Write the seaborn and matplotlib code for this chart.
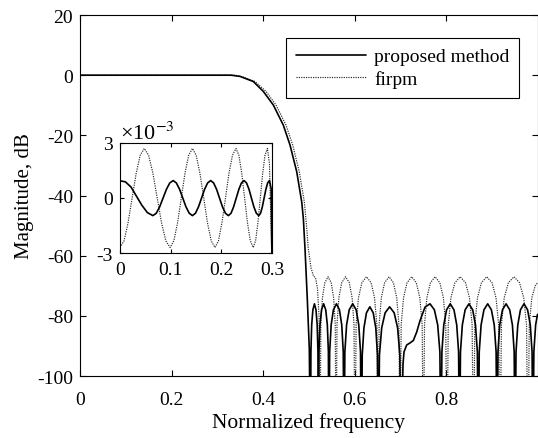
import matplotlib
matplotlib.use("Agg")
import matplotlib.pyplot as plt
import seaborn as sns

# ---- main response (normalized frequency, dB) ----
# nulls are drawn below the -100 dB floor and get clipped by the axes
proposed_freq = [
    0.0, 0.33, 0.3497, 0.3788, 0.4007, 0.4225, 0.4444, 0.459, 0.4737, 0.4846,
    0.4882, 0.4918, 0.4968, 0.5012, 0.5038,
    0.5047, 0.5064, 0.5090, 0.5124, 0.5158, 0.5184, 0.5201, 0.521,
    0.5222, 0.5245, 0.5279, 0.5325, 0.5371, 0.5406, 0.5429, 0.544,
    0.5457, 0.5490, 0.5539, 0.5605, 0.5671, 0.5721, 0.5754, 0.577,
    0.5789, 0.5827, 0.5884, 0.5960, 0.6036, 0.6093, 0.6131, 0.615,
    0.6169, 0.6206, 0.6261, 0.6335, 0.6409, 0.6465, 0.6502, 0.652,
    0.6545, 0.6594, 0.6669, 0.6768, 0.6867, 0.6942, 0.6991, 0.7016,
    0.7060, 0.7082, 0.7140, 0.7213, 0.7286, 0.7359, 0.7432, 0.7541, 0.765,
    0.7746, 0.7818, 0.7866, 0.789,
    0.7910, 0.7951, 0.8012, 0.8093, 0.8174, 0.8234, 0.8275, 0.8295,
    0.8316, 0.8357, 0.8418, 0.8501, 0.8583, 0.8644, 0.8685, 0.8706,
    0.8726, 0.8767, 0.8829, 0.8911, 0.8992, 0.9054, 0.9095, 0.9115,
    0.9135, 0.9174, 0.9234, 0.9313, 0.9392, 0.9451, 0.9490, 0.951,
    0.9530, 0.9569, 0.9627, 0.9705, 0.9783, 0.9842, 0.9881, 0.990,
    0.992, 0.9959, 1.0,
]
proposed_db = [
    0, 0, -0.4, -2.1, -5.4, -9.9, -16.6, -23.2, -32.1, -42.1,
    -47.7, -57.7, -74.3, -91, -130,
    -92, -83, -78, -76, -78, -83, -92, -130,
    -92, -83, -78, -76, -78, -83, -92, -130,
    -92, -83, -78, -76, -78, -83, -92, -130,
    -92, -83, -78, -76, -78, -83, -92, -130,
    -93, -84, -79, -77, -79, -84, -93, -130,
    -93, -84, -79, -77, -79, -84, -93, -130,
    -96, -92, -89.7, -89, -88.2, -85.4, -81.6, -77.1, -76,
    -78, -83, -92, -130,
    -92, -83, -78, -76, -78, -83, -92, -130,
    -92, -83, -78, -76, -78, -83, -92, -130,
    -92, -83, -78, -76, -78, -83, -92, -130,
    -92, -83, -78, -76, -78, -83, -92, -130,
    -92, -83, -78, -76, -78, -83, -92, -130,
    -92, -83, -79.5,
]

firpm_freq = [
    0.0, 0.3388, 0.3541, 0.3825, 0.4066, 0.4284, 0.4503, 0.4649, 0.4793,
    0.4903, 0.4951, 0.4990, 0.5049, 0.5104, 0.5148, 0.5191, 0.5224, 0.5246,
    0.5264, 0.5299, 0.5351, 0.5421, 0.5491, 0.5544, 0.5579, 0.5596,
    0.5617, 0.5658, 0.5720, 0.5803, 0.5886, 0.5948, 0.5989, 0.601,
    0.6035, 0.6086, 0.6161, 0.6262, 0.6363, 0.6438, 0.6489, 0.6514,
    0.6538, 0.6586, 0.6658, 0.6755, 0.6851, 0.6923, 0.6971, 0.6995,
    0.7020, 0.7071, 0.7148, 0.7250, 0.7351, 0.7428, 0.7479, 0.7504,
    0.7530, 0.7581, 0.7659, 0.7762, 0.7865, 0.7943, 0.7994, 0.802,
    0.8049, 0.8107, 0.8194, 0.8310, 0.8426, 0.8513, 0.8571, 0.860,
    0.8629, 0.8687, 0.8774, 0.8890, 0.9006, 0.9093, 0.9151, 0.918,
    0.9211, 0.9272, 0.9363, 0.9485, 0.9607, 0.9699, 0.9760, 0.979,
    0.982, 0.9875, 0.995, 1.0,
]
firpm_db = [
    0, 0, -0.5, -2.1, -5.4, -9.9, -16.6, -23.2, -32.1,
    -42.1, -50, -57.7, -64, -66.8, -67.3, -71, -80, -130,
    -83, -74, -69, -67, -69, -74, -83, -130,
    -83, -74, -69, -67, -69, -74, -83, -130,
    -83, -74, -69, -67, -69, -74, -83, -130,
    -83, -74, -69, -67, -69, -74, -83, -130,
    -83, -74, -69, -67, -69, -74, -83, -130,
    -83, -74, -69, -67, -69, -74, -83, -130,
    -83, -74, -69, -67, -69, -74, -83, -130,
    -83, -74, -69, -67, -69, -74, -83, -130,
    -83, -74, -69, -67, -69, -74, -83, -130,
    -83, -74, -70, -69,
]

# ---- passband ripple inset (frequency, dB in units of 1e-3) ----
inset_prop_freq = [
    0.0, 0.0108, 0.0217, 0.0325, 0.0433, 0.0542,
    0.065, 0.0717, 0.0783, 0.085, 0.0917, 0.0983,
    0.105, 0.1113, 0.1177, 0.124, 0.1303, 0.1367,
    0.143, 0.149, 0.155, 0.161, 0.167, 0.173,
    0.179, 0.1848, 0.1907, 0.1965, 0.2023, 0.2082,
    0.214, 0.2192, 0.2243, 0.2295, 0.2347, 0.2398,
    0.245, 0.2498, 0.2547, 0.2595, 0.2643, 0.2692,
    0.274, 0.2775, 0.281, 0.2845, 0.288, 0.2915,
    0.295, 0.2985, 0.3,
]
inset_prop_val = [
    0.94, 0.88, 0.6, 0.1, -0.4, -0.8,
    -0.96, -0.832, -0.483, -0.005, 0.473, 0.822,
    0.95, 0.822, 0.473, -0.005, -0.483, -0.832,
    -0.96, -0.832, -0.483, -0.005, 0.473, 0.822,
    0.95, 0.822, 0.473, -0.005, -0.483, -0.832,
    -0.96, -0.832, -0.483, -0.005, 0.473, 0.822,
    0.95, 0.822, 0.473, -0.005, -0.483, -0.832,
    -0.96, -0.832, -0.483, -0.005, 0.473, 0.822,
    0.95, 0.5, -3.5,
]
inset_firpm_freq = [
    0.0, 0.008, 0.016, 0.024, 0.032, 0.040,
    0.048, 0.0565, 0.065, 0.0735, 0.082, 0.0905,
    0.099, 0.1063, 0.1137, 0.121, 0.1283, 0.1357,
    0.143, 0.1504, 0.1578, 0.1653, 0.1727, 0.1801,
    0.1875, 0.1944, 0.2013, 0.2083, 0.2152, 0.2221,
    0.229, 0.2347, 0.2403, 0.246, 0.2517, 0.2573,
    0.263, 0.2677, 0.2723, 0.277, 0.2817, 0.2863,
    0.291, 0.295, 0.3,
]
inset_firpm_val = [
    -2.7, -2.338, -1.35, 0, 1.35, 2.338,
    2.7, 2.338, 1.35, 0, -1.35, -2.338,
    -2.7, -2.338, -1.35, 0, 1.35, 2.338,
    2.7, 2.338, 1.35, 0, -1.35, -2.338,
    -2.7, -2.338, -1.35, 0, 1.35, 2.338,
    2.7, 2.338, 1.35, 0, -1.35, -2.338,
    -2.7, -2.338, -1.35, 0, 1.35, 2.338,
    2.7, 1.9, -3.5,
]

x_ticks = [0, 0.2, 0.4, 0.6, 0.8]
x_ticklabels = ["0", "0.2", "0.4", "0.6", "0.8"]
y_ticks = [-100, -80, -60, -40, -20, 0, 20]
inset_x_ticks = [0, 0.1, 0.2, 0.3]
inset_x_ticklabels = ["0", "0.1", "0.2", "0.3"]
inset_y_ticks = [-3, 0, 3]
inset_y_ticklabels = ["-3", "0", "3"]

sns.set_theme(style="ticks")
plt.rcParams["font.family"] = ["Liberation Serif", "DejaVu Serif"]
plt.rcParams["mathtext.fontset"] = "stix"
plt.rcParams["axes.unicode_minus"] = False
plt.rcParams["axes.edgecolor"] = "black"
plt.rcParams["axes.linewidth"] = 0.8
plt.rcParams["text.color"] = "black"
plt.rcParams["axes.labelcolor"] = "black"
plt.rcParams["xtick.color"] = "black"
plt.rcParams["ytick.color"] = "black"

fig = plt.figure(figsize=(5.38, 4.39), dpi=100)
ax = fig.add_axes([0.1487, 0.1412, 0.8504, 0.8223])

dotted = (0, (1, 1))
sns.lineplot(x=firpm_freq, y=firpm_db, ax=ax, color="0.15", linewidth=0.85,
             sort=False, estimator=None)
sns.lineplot(x=proposed_freq, y=proposed_db, ax=ax, color="black", linewidth=1.2,
             sort=False, estimator=None)
line_firpm, line_prop = ax.lines[0], ax.lines[1]
line_firpm.set_linestyle(dotted)

ax.set_xlim(0, 1)
ax.set_ylim(-100, 20)
ax.set_xticks(x_ticks)
ax.set_xticklabels(x_ticklabels)
ax.set_yticks(y_ticks)
ax.tick_params(direction="in", top=True, right=True, length=4, width=0.8,
               labelsize=14)
ax.tick_params(axis="x", pad=10.5)
ax.tick_params(axis="y", pad=5)
ax.set_xlabel("Normalized frequency", fontsize=15.5, labelpad=3)
ax.set_ylabel("Magnitude, dB", fontsize=15, labelpad=2)

leg = ax.legend([line_prop, line_firpm], ["proposed method", "firpm"],
                loc="upper right", bbox_to_anchor=(0.9596, 0.936),
                borderaxespad=0, fontsize=14, fancybox=False, framealpha=1,
                edgecolor="black", handlelength=3.6, handletextpad=0.4,
                labelspacing=0.25, borderpad=0.5)
leg.get_frame().set_linewidth(0.8)

# inset with the passband ripple (values in units of 1e-3 dB)
axin = fig.add_axes([0.2230, 0.4214, 0.2825, 0.2506])
sns.lineplot(x=inset_firpm_freq, y=inset_firpm_val, ax=axin,
             color="0.15", linewidth=0.85, sort=False, estimator=None)
sns.lineplot(x=inset_prop_freq, y=inset_prop_val, ax=axin,
             color="black", linewidth=1.2, sort=False, estimator=None)
axin.lines[0].set_linestyle(dotted)
axin.set_xlim(0, 0.3)
axin.set_ylim(-3, 3)
axin.set_xticks(inset_x_ticks)
axin.set_xticklabels(inset_x_ticklabels)
axin.set_yticks(inset_y_ticks)
axin.set_yticklabels(inset_y_ticklabels)
axin.tick_params(direction="in", top=True, right=True, length=3, width=0.8,
                 labelsize=14)
axin.tick_params(axis="x", pad=6)
axin.tick_params(axis="y", pad=5)
axin.text(0.0, 0.995, "×10$^{-3}$", transform=axin.transAxes, fontsize=16,
          ha="left", va="bottom")
axin.set_xlabel("")
axin.set_ylabel("")

fig.savefig("out.png", dpi=100)
